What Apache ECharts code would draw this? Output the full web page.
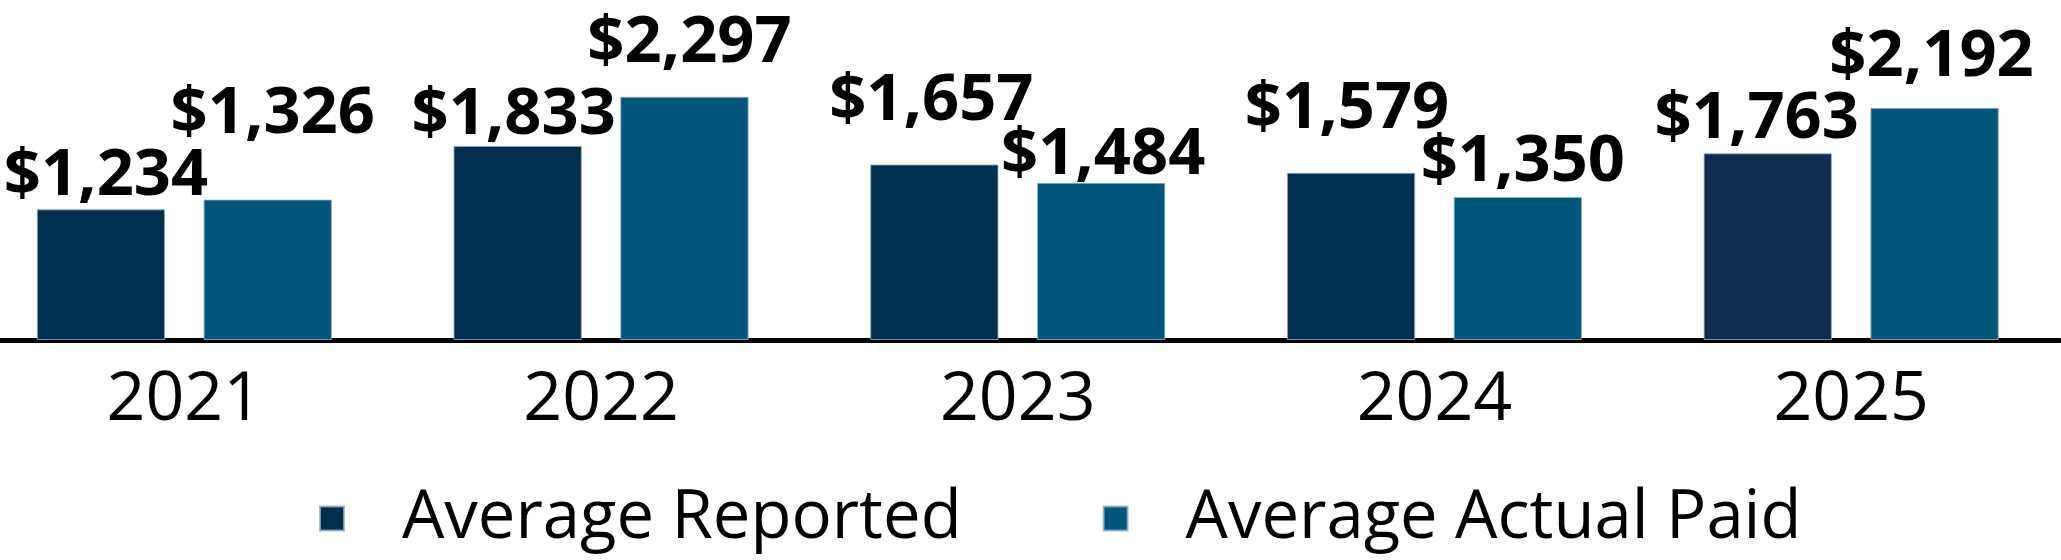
<!DOCTYPE html>
<html>
<head>
<meta charset="utf-8">
<script src="https://cdn.jsdelivr.net/npm/echarts@6/dist/echarts.min.js"></script>
<style>
  html, body { margin: 0; padding: 0; background: #ffffff; overflow: hidden; width: 2061px; height: 560px; }
  #wrap { width: 2061px; height: 560px; overflow: hidden; position: relative; }
  #chart { width: 2086px; height: 560px; position: absolute; left: -24px; top: 0; }
</style>
</head>
<body>
<div id="wrap"><div id="chart"></div></div>
<script>
// ---- data ----
const categories = ['2021', '2022', '2023', '2024', '2025'];
const seriesNames = ['Average Reported', 'Average Actual Paid'];
const reported = [1234, 1833, 1657, 1579, 1763];
const actualPaid = [1326, 2297, 1484, 1350, 2192];

// ---- label placement (manual in the original) : [dx, extra lift] ----
const reportedLabelNudge = [[5, 0], [-4, -2], [-3, 31], [-4, 31], [-11, 1]];
const paidLabelNudge = [[5, 53], [5, 21], [2, -5], [5, 2], [-3, 18]];

const colorReported = '#002E4E';
const colorReported2025 = '#0E2D4F';
const colorPaid = '#02567A';
const FONT = "'Open Sans', 'Noto Sans', sans-serif";

function fmt(v) { return '$' + v.toLocaleString('en-US'); }

function buildData(values, nudges, baseColor, overrides) {
  return values.map((v, i) => ({
    value: v,
    itemStyle: { color: (overrides && overrides[i]) || baseColor },
    label: { offset: [nudges[i][0], -nudges[i][1]] }
  }));
}

const chart = echarts.init(document.getElementById('chart'), null, { renderer: 'canvas' });
chart.setOption({
  animation: false,
  backgroundColor: '#ffffff',
  grid: { left: 0, right: 2.5, top: 22.3, bottom: 220, containLabel: false },
  legend: {
    data: seriesNames,
    left: 343,
    top: 485,
    padding: 0,
    itemWidth: 24,
    itemHeight: 24,
    itemGap: 141,
    icon: 'rect',
    selectedMode: false,
    textStyle: { fontFamily: FONT, fontSize: 67, color: '#000', padding: [0, 0, 0, 53] }
  },
  xAxis: {
    type: 'category',
    data: categories,
    axisLine: { show: true, lineStyle: { color: '#000', width: 5 } },
    axisTick: { show: false },
    axisLabel: { fontFamily: FONT, fontSize: 68, color: '#000', margin: 27 }
  },
  yAxis: {
    type: 'value',
    min: 0,
    max: 3000,
    show: false,
    splitLine: { show: false }
  },
  series: [
    {
      name: seriesNames[0],
      type: 'bar',
      barWidth: 128.3,
      barGap: '30%',
      itemStyle: { color: colorReported, borderColor: 'rgba(150,175,195,0.8)', borderWidth: 1 },
      data: buildData(reported, reportedLabelNudge, colorReported, [null, null, null, null, colorReported2025]),
      label: {
        show: true, position: 'top', distance: 0,
        formatter: p => fmt(p.value),
        fontFamily: FONT, fontWeight: 'bold', fontSize: 65, color: '#000'
      }
    },
    {
      name: seriesNames[1],
      type: 'bar',
      barWidth: 128.3,
      barGap: '30%',
      itemStyle: { color: colorPaid, borderColor: 'rgba(150,175,195,0.8)', borderWidth: 1 },
      data: buildData(actualPaid, paidLabelNudge, colorPaid, null),
      label: {
        show: true, position: 'top', distance: 0,
        formatter: p => fmt(p.value),
        fontFamily: FONT, fontWeight: 'bold', fontSize: 65, color: '#000'
      }
    }
  ]
});
</script>
</body>
</html>
